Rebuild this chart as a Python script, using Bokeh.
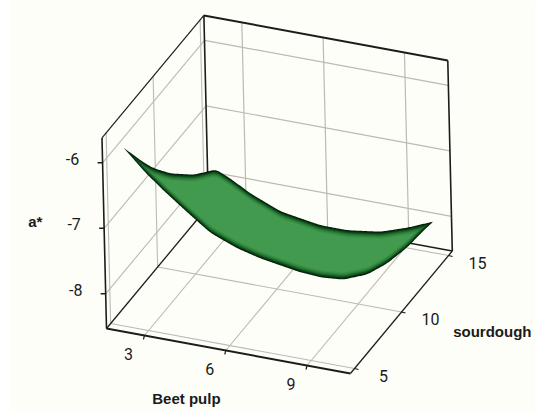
import numpy as np
from bokeh.plotting import figure
from bokeh.models import Range1d
from bokeh.core.properties import value
from bokeh.embed import file_html
from bokeh.resources import INLINE

# Axis limits and ticks
BEET_LIMITS = [1.6, 10.6]
SOUR_LIMITS = [4.56, 15.4]
ASTAR_LIMITS = [-8.53, -5.62]
BEET_TICKS = [3, 6, 9]
SOUR_TICKS = [5, 10, 15]
ASTAR_TICKS = [-6, -7, -8]

# Edges of the fitted surface (Beet pulp, sourdough, a*)
LEFT_BEET = [1.96, 1.96, 1.96, 1.96, 1.96, 1.96, 1.96]
LEFT_SOUR = [5.76, 7.78, 8.82, 10.56, 12.94, 14.38, 15.26]
LEFT_ASTAR = [-5.95, -6.52, -6.79, -7.17, -7.60, -7.80, -7.92]

BACK_BEET = [2.49, 3.22, 4.32, 5.05, 5.79, 6.78, 8.00, 9.01, 9.94]
BACK_SOUR = [15.26] * 9
BACK_ASTAR = [-8.02, -8.19, -8.38, -8.43, -8.48, -8.48, -8.41, -8.27, -8.11]

FRONT_BEET = [1.96, 2.75, 3.40, 4.27, 5.11, 6.09, 6.94, 7.67, 8.41, 9.15, 9.99]
FRONT_SOUR = [5.76] * 11
FRONT_ASTAR = [-5.95, -6.27, -6.49, -6.76, -7.01, -7.17, -7.26, -7.31, -7.36, -7.38, -7.35]

RIGHT_BEET = [9.96, 9.96, 9.96, 9.96, 9.96]
RIGHT_SOUR = [8.35, 10.44, 12.56, 14.25, 15.26]
RIGHT_ASTAR = [-7.72, -7.91, -8.03, -8.07, -8.11]

BG = "#fefef8"
GRID = "#bbbbb3"
DARK = "#1c1c1c"
SHADES = ["#03200a", "#073012", "#0f4a1a", "#1a6026", "#257231", "#2e823b", "#358b42", "#3c9449", "#419a4e"]
FONT = "Roboto"
BOLD_FONT = "Liberation Sans"


def proj(x, y, z):
    """Oblique 3-D view: data values to picture position."""
    x = np.asarray(x, float) - BEET_LIMITS[0]
    y = np.asarray(y, float) - SOUR_LIMITS[0]
    z = np.asarray(z, float) - ASTAR_LIMITS[0]
    return 106 + 27.1 * x + 9.4 * y - 1.55 * z, 328 + 5.0 * x - 11.3 * y - 65.5 * z


p = figure(width=535, height=411, output_backend="svg", toolbar_location=None,
           x_range=Range1d(10, 535), y_range=Range1d(410, 0),
           min_border_left=10, min_border_right=0, min_border_top=0, min_border_bottom=1,
           background_fill_color=BG, border_fill_color="#ffffff",
           outline_line_color=None, tools="")
p.axis.visible = False
p.grid.visible = False


def seg(a, b, color, width):
    px, py = proj([a[0], b[0]], [a[1], b[1]], [a[2], b[2]])
    p.line(px, py, line_color=color, line_width=width)


x0, x1 = BEET_LIMITS
y0, y1 = SOUR_LIMITS
z0, z1 = ASTAR_LIMITS

# Grid on the three walls
for t in BEET_TICKS:
    seg((t, y0, z0), (t, y1, z0), GRID, 1.1)
    seg((t, y1, z0), (t, y1, z1), GRID, 1.2)
for t in SOUR_TICKS:
    seg((x0, t, z0), (x1, t, z0), GRID, 1.1)
    seg((x0, t, z0), (x0, t, z1), GRID, 1.1)
for t in ASTAR_TICKS:
    seg((x0, y0, t), (x0, y1, t), GRID, 1.1)
    seg((x0, y1, t), (x1, y1, t), GRID, 1.2)

# Box edges
seg((x0, y0, z0), (x0, y1, z0), DARK, 1.3)
seg((x0, y1, z0), (x1, y1, z0), DARK, 1.5)
seg((x1, y0, z0), (x1, y1, z0), DARK, 1.3)
seg((x0, y0, z0), (x1, y0, z0), DARK, 2)
seg((x0, y0, z0), (x0, y0, z1), DARK, 1.6)
seg((x0, y1, z0), (x0, y1, z1), DARK, 1.6)
seg((x1, y1, z0), (x1, y1, z1), DARK, 1.6)
seg((x0, y0, z1), (x0, y1, z1), DARK, 1.2)
seg((x0, y1, z1), (x1, y1, z1), DARK, 2)

# Tick marks
for t in BEET_TICKS:
    px, py = proj(t, y0, z0)
    p.line([px, px - 1], [py, py + 4], line_color=DARK, line_width=1.2)
for t in SOUR_TICKS:
    px, py = proj(x1, t, z0)
    p.line([px, px + 4], [py, py + 1], line_color=DARK, line_width=1.2)
for t in ASTAR_TICKS:
    px, py = proj(x0, y0, t)
    p.line([px, px - 5], [py, py], line_color=DARK, line_width=1.4)

# Surface: silhouette chains, rounded and shaded by nested outlines
ux, uy = proj(LEFT_BEET + BACK_BEET, LEFT_SOUR + BACK_SOUR, LEFT_ASTAR + BACK_ASTAR)
lx, ly = proj(FRONT_BEET + RIGHT_BEET, FRONT_SOUR + RIGHT_SOUR, FRONT_ASTAR + RIGHT_ASTAR)
sx = np.arange(ux[0], ux[-1] + 0.5, 1.0)
su = np.interp(sx, ux, uy)
sl = np.interp(sx, lx, ly)


def rounded(v, n=9):
    out = v.copy()
    half = n // 2
    for i in range(len(v)):
        h = min(half, i, len(v) - 1 - i)
        out[i] = v[i - h:i + h + 1].mean()
    return out


su = rounded(su)
sl = rounded(sl)
mid = (su + sl) / 2
for i, shade in enumerate(SHADES):
    d = i * 0.9
    top = np.minimum(su + d, mid)
    bot = np.maximum(sl - d, mid)
    p.patch(np.r_[sx, sx[::-1]], np.r_[top, bot[::-1]], fill_color=shade, line_color=None)


def label(px, py, text, size, bold=False):
    p.text([px], [py], text=[text], text_font=value(BOLD_FONT if bold else FONT),
           text_font_size=f"{size}px",
           text_font_style="bold" if bold else "normal", text_color="#1a1a1a",
           text_align="center", text_baseline="middle")


for t in BEET_TICKS:
    px, py = proj(t, y0, z0)
    label(px - 16, py + 18, str(t), 16)
for t in SOUR_TICKS:
    px, py = proj(x1, t, z0)
    label(px + 29, py + 7, str(t), 16)
for t in ASTAR_TICKS:
    px, py = proj(x0, y0, t)
    label(px - 30, py - 4, str(t), 16)

mx, my = proj((x0 + x1) / 2, y0, z0)
label(mx - 42, my + 47, "Beet pulp", 15, True)
mx, my = proj(x1, (y0 + y1) / 2, z0)
label(mx + 91, my + 19, "sourdough", 15, True)
mx, my = proj(x0, y0, (z0 + z1) / 2)
label(mx - 69, my - 12, "a*", 15, True)

open("out.html", "w").write(file_html(p, INLINE))
